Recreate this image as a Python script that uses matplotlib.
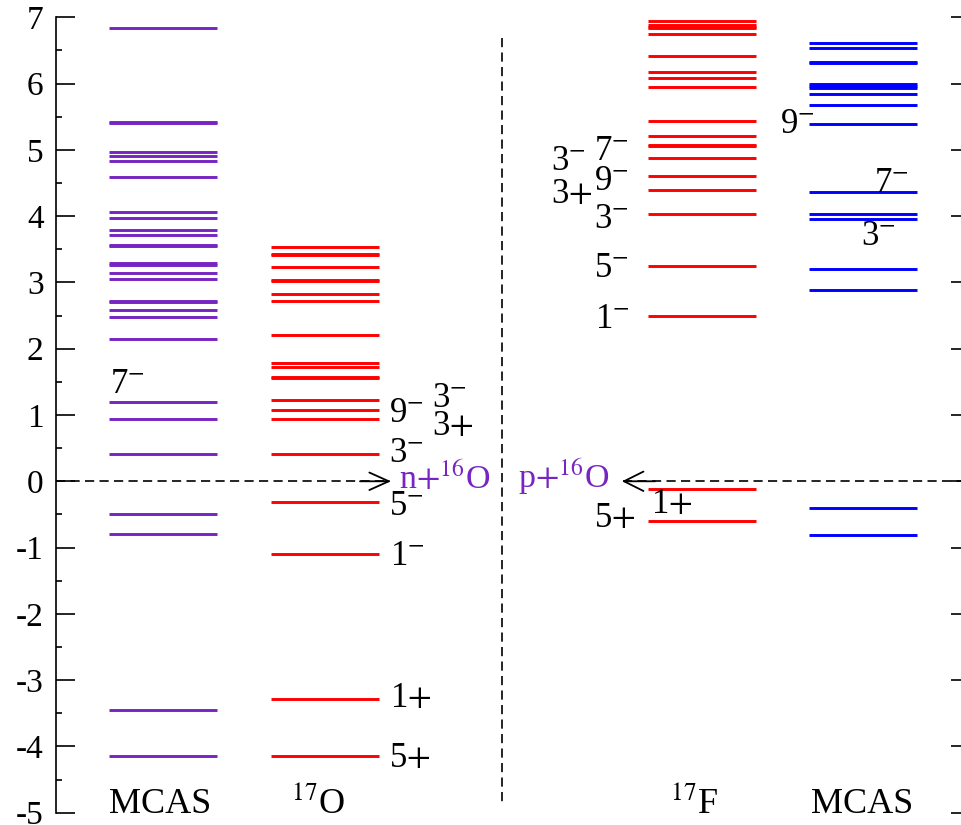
import matplotlib
matplotlib.use("Agg")
import matplotlib.pyplot as plt

plt.rcParams['font.family'] = ['Liberation Serif', 'DejaVu Serif']
plt.rcParams['mathtext.fontset'] = 'stix'
plt.rcParams['axes.unicode_minus'] = False

# ---- data (energies in MeV relative to nucleon+16O threshold) ----
mcas_n = [6.84, 5.42, 5.40, 4.97, 4.91, 4.83, 4.59, 4.07, 3.97, 3.79, 3.71,
          3.57, 3.55, 3.29, 3.27, 3.14, 3.05, 2.72, 2.70, 2.59, 2.48, 2.14,
          1.20, 0.94, 0.41, -0.49, -0.79, -3.45, -4.15]
o17 = [3.54, 3.43, 3.41, 3.23, 3.04, 3.02, 2.83, 2.72, 2.20, 1.78, 1.72,
       1.58, 1.56, 1.23, 1.07, 0.94, 0.41, -0.31, -1.09, -3.28, -4.15]
f17 = [6.94, 6.89, 6.86, 6.84, 6.75, 6.42, 6.17, 6.09, 5.95, 5.43, 5.21,
       5.08, 5.06, 4.88, 4.61, 4.39, 4.03, 3.25, 2.50, -0.11, -0.60]
mcas_p = [6.61, 6.53, 6.33, 6.31, 5.99, 5.96, 5.94, 5.85, 5.68, 5.39, 4.36,
          4.03, 3.95, 3.20, 2.89, -0.40, -0.81]

columns = ["MCAS", r"$^{17}$O", r"$^{17}$F", "MCAS"]
column_levels = [mcas_n, o17, f17, mcas_p]

# spin labels: (text, x, y)
spin_labels = [
    (r"7$^{-}$", 110, 1.33),
    (r"9$^{-}$", 389, 0.90), (r"3$^{-}$", 432, 1.12), (r"3$+$", 432, 0.70),
    (r"3$^{-}$", 389, 0.29), (r"5$^{-}$", 389, -0.51), (r"1$^{-}$", 390, -1.26),
    (r"1$+$", 390, -3.40), (r"5$+$", 389, -4.31),
    (r"3$^{-}$", 551, 4.70), (r"3$+$", 551, 4.20), (r"7$^{-}$", 594, 4.85),
    (r"9$^{-}$", 594, 4.40), (r"3$^{-}$", 594, 3.82), (r"5$^{-}$", 594, 3.08),
    (r"1$^{-}$", 595, 2.31), (r"5$+$", 594, -0.69), (r"1$+$", 651, -0.48),
    (r"9$^{-}$", 780, 5.25), (r"7$^{-}$", 874, 4.37), (r"3$^{-}$", 861, 3.57),
]

# ---- layout ----
col_x = [(109, 217), (271, 379), (648, 756), (809, 917)]
col_colors = ['#7624c2', '#ff0000', '#ff0000', '#0000ff']
col_label_x = [160, 318, 694, 862]
purple = '#7624c2'

W, H = 961, 825
fig = plt.figure(figsize=(W / 100, H / 100), dpi=100)
ax = fig.add_axes([56 / W, (H - 812.7) / H, (970 - 56) / W, (812.7 - 17.3) / H])
ax.set_xlim(56, 970)
ax.set_ylim(-5, 7)

for (x0, x1), levels, c in zip(col_x, column_levels, col_colors):
    ax.hlines(levels, x0, x1, colors=c, lw=2.1)

for txt, x, y in spin_labels:
    ax.text(x, y, txt, fontsize=25, ha='left', va='baseline', color='k')

for lab, xc in zip(columns, col_label_x):
    ax.text(xc, -5.0, lab, fontsize=26, ha='center', va='baseline',
            color='k', clip_on=False)

# thresholds
dash = (0, (5.5, 3.2))
ax.plot([56, 390], [0, 0], color='k', lw=1.2, linestyle=dash)
ax.plot([623, 970], [0, 0], color='k', lw=1.2, linestyle=dash)
ax.plot([502, 502], [6.69, -4.88], color='k', lw=1.2, linestyle=dash)
ax.annotate('', xy=(391, 0), xytext=(360, 0),
            arrowprops=dict(arrowstyle='->,head_length=1.0,head_width=0.45',
                            lw=1.3, color='k', shrinkA=0, shrinkB=0,
                            mutation_scale=14))
ax.annotate('', xy=(622, 0), xytext=(655, 0),
            arrowprops=dict(arrowstyle='->,head_length=1.0,head_width=0.5',
                            lw=1.3, color='k', shrinkA=0, shrinkB=0,
                            mutation_scale=14))
ax.text(399, -0.12, r"n$+^{16}$O", fontsize=24.5, color=purple,
        ha='left', va='baseline')
ax.text(518, -0.10, r"p$+^{16}$O", fontsize=24.5, color=purple,
        ha='left', va='baseline')

# axes styling
for s in ['top', 'bottom']:
    ax.spines[s].set_visible(False)
ax.spines['left'].set_linewidth(1.2)
ax.spines['right'].set_linewidth(1.2)
ax.set_yticks(range(-5, 8))
ax.set_yticks([v + 0.5 for v in range(-5, 7)], minor=True)
ax.set_xticks([])
ax.tick_params(axis='y', which='both', direction='in', left=True, right=True,
               labelsize=24, pad=9)
ax.tick_params(axis='y', which='major', length=13.5, width=1.2)
ax.tick_params(axis='y', which='minor', length=4.5, width=1.2)

fig.savefig('out.png', dpi=100)
